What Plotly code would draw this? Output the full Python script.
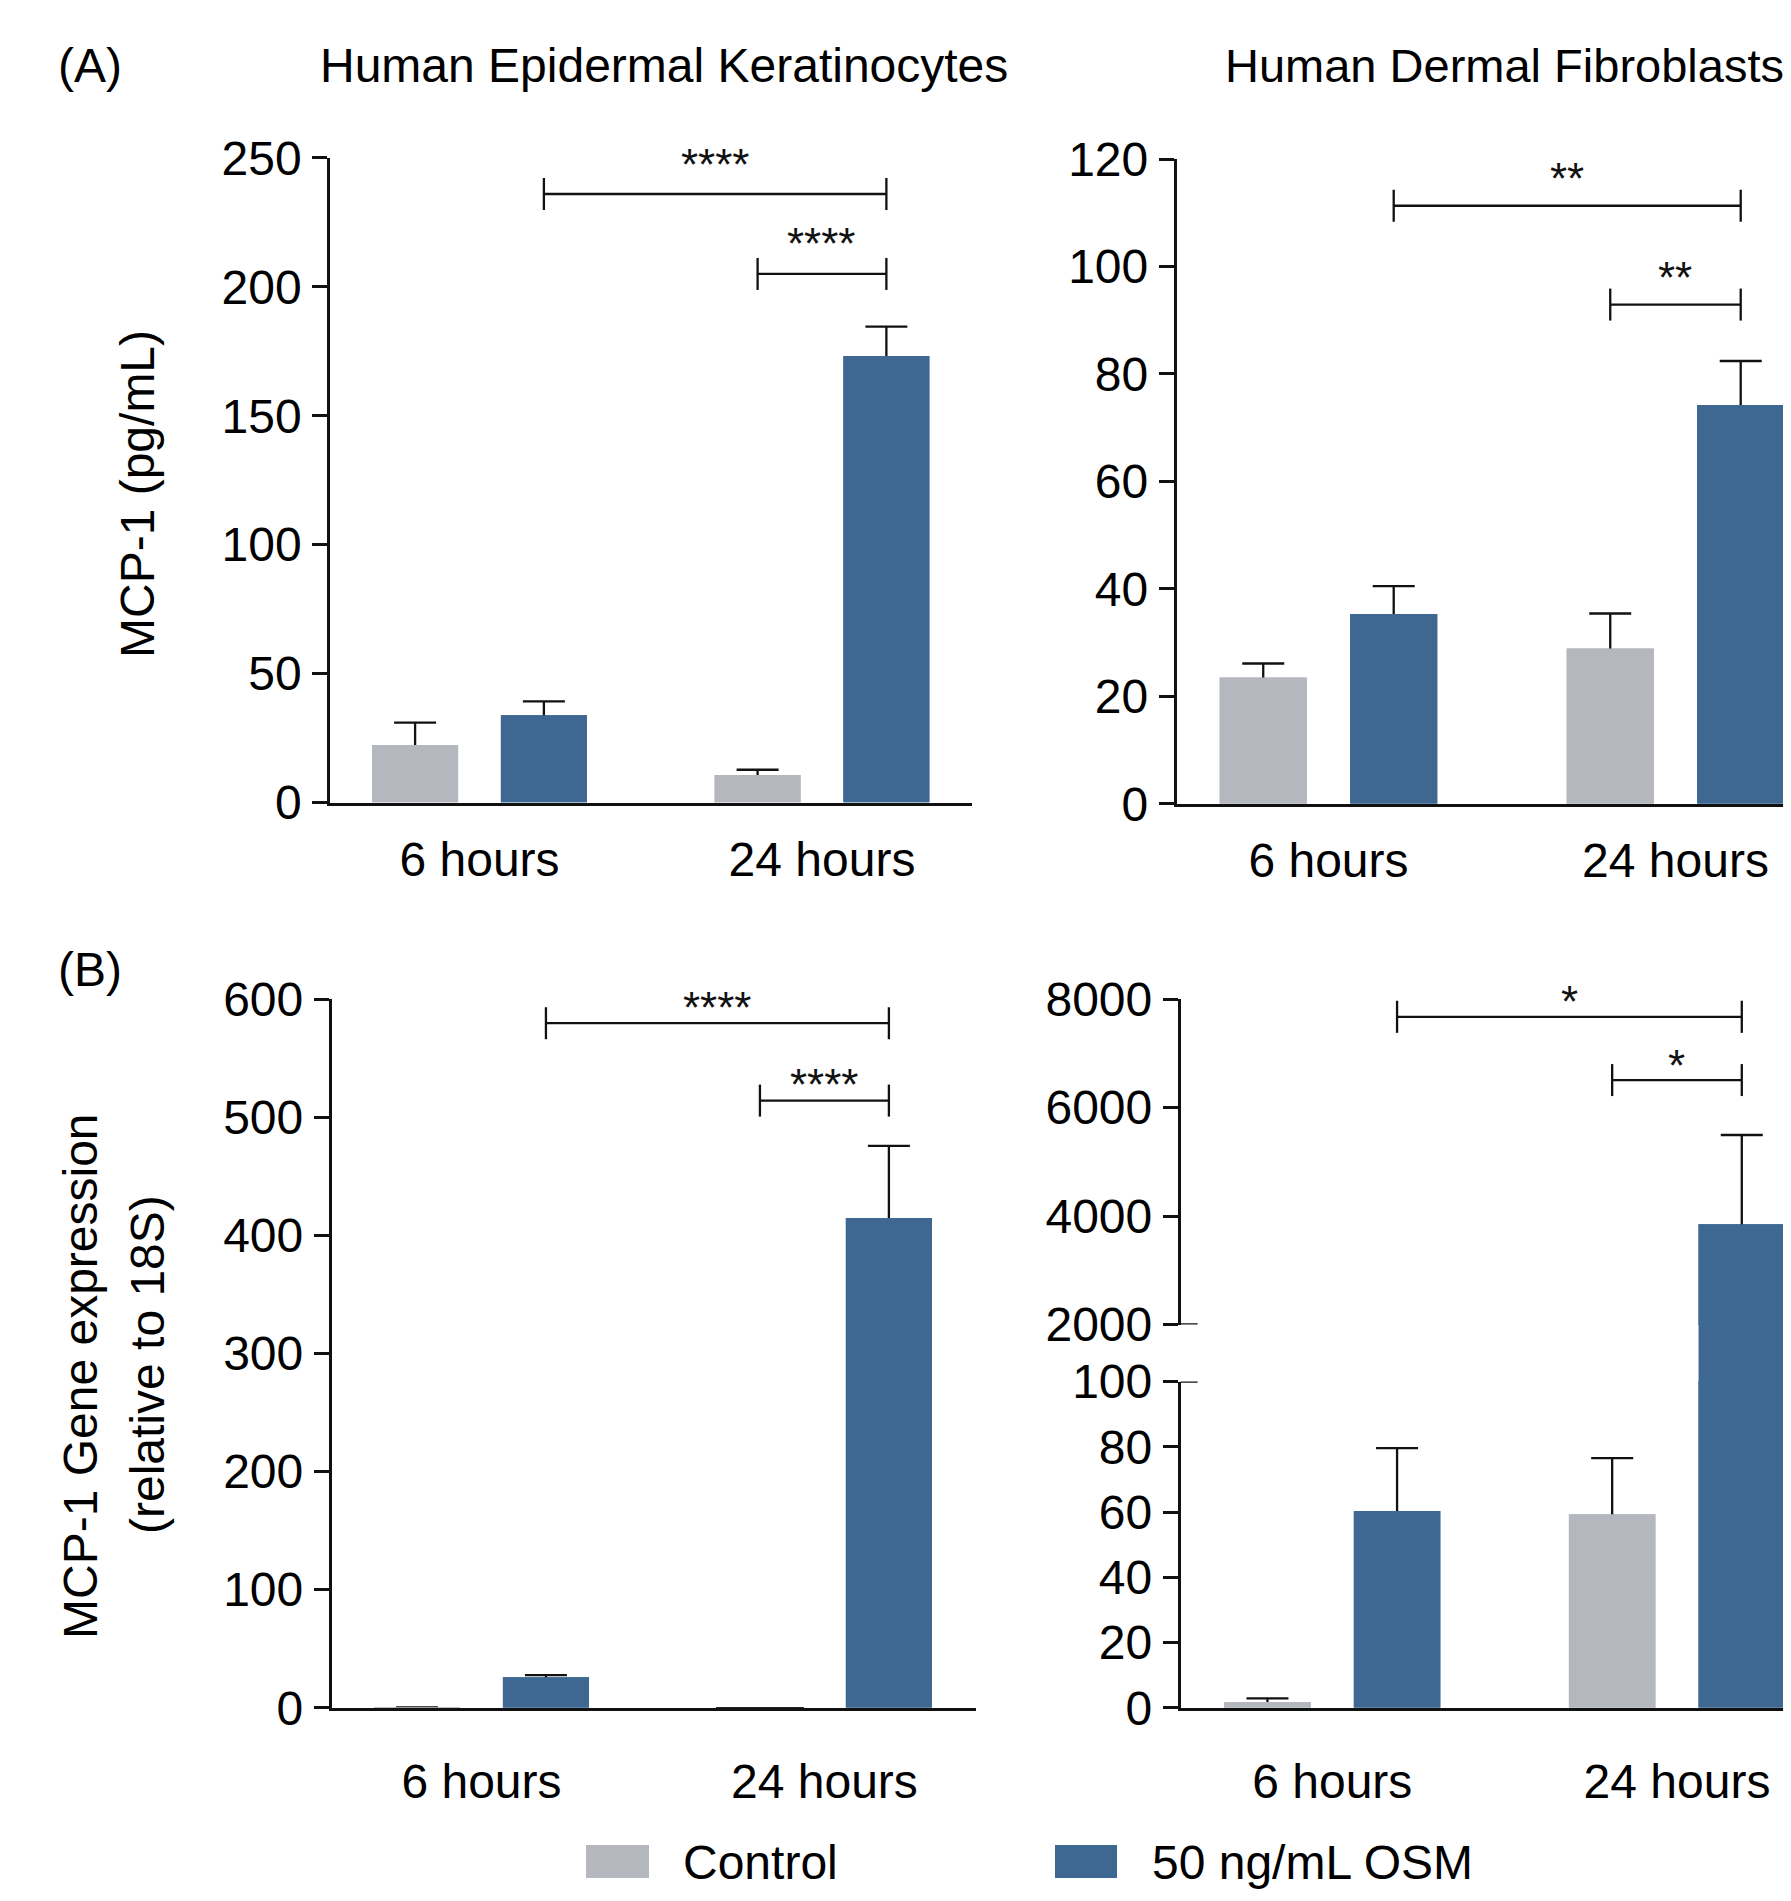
import plotly.graph_objects as go

W, H = 1791, 1901
PAGE_OFFSET = 8   # the page body margin puts the figure 8 px from the window corner
FONT = "Liberation Sans, Arial, Helvetica, sans-serif"
GRAY = "#b4b7be"
BLUE = "#3e6891"
INK = "#111111"

# ---------------- data ----------------
groups = ["6 hours", "24 hours"]
series_names = ["Control", "50 ng/mL OSM"]

# (A) MCP-1 protein (pg/mL)
kera_prot_ctrl = [22.3, 10.7]
kera_prot_ctrl_sem = [8.7, 2.0]
kera_prot_osm = [33.8, 173.2]
kera_prot_osm_sem = [5.4, 11.4]

fib_prot_ctrl = [23.5, 28.9]
fib_prot_ctrl_sem = [2.6, 6.5]
fib_prot_osm = [35.3, 74.2]
fib_prot_osm_sem = [5.2, 8.2]

# (B) MCP-1 gene expression (relative to 18S)
kera_gene_ctrl = [0.3, -2.0]
kera_gene_ctrl_sem = [None, None]
kera_gene_osm = [25.9, 414.6]
kera_gene_osm_sem = [1.7, 61.1]

fib_gene_ctrl = [1.8, 59.3]
fib_gene_ctrl_sem = [1.1, 17.2]
fib_gene_osm = [60.3, 3847.0]
fib_gene_osm_sem = [19.3, 1647.0]

# significance: [OSM 6h vs OSM 24h, Control 24h vs OSM 24h]
kera_prot_sig = ["****", "****"]
kera_prot_sig_y = [236, 205]
fib_prot_sig = ["**", "**"]
fib_prot_sig_y = [111.3, 92.9]
kera_gene_sig = ["****", "****"]
kera_gene_sig_y = [579.5, 514]
fib_gene_sig = ["*", "*"]
fib_gene_sig_y = [7671, 6506]

# ---------------- layout helpers ----------------
OFF = 0.188      # bar offset from group centre (group units)
BW = 0.251       # bar width (group units)


def px(p):
    return (p - PAGE_OFFSET) / W


def py(p):
    return 1 - (p - PAGE_OFFSET) / H


fig = go.Figure()
shapes = []
annotations = []


def bar_x(series_idx):
    return [g + (OFF if series_idx == 1 else -OFF) for g in range(len(groups))]


def add_bars(xa, ya, ctrl, ctrl_err, osm, osm_err, ctrl_line=None, with_err=True):
    for s, (vals, errs, col) in enumerate([(ctrl, ctrl_err, GRAY), (osm, osm_err, BLUE)]):
        marker = dict(color=col, line=dict(width=0))
        if s == 0 and ctrl_line is not None:
            marker = dict(color=col, line=dict(width=ctrl_line, color=INK))
        common = dict(x=bar_x(s), y=vals, width=BW, xaxis=xa, yaxis=ya,
                      marker=marker, showlegend=False, hoverinfo="skip",
                      cliponaxis=(ctrl_line is None))
        if with_err:
            # bar carrying the error bar
            fig.add_trace(go.Bar(name=series_names[s], **common,
                                 error_y=dict(type="data", array=errs, symmetric=True,
                                              color=INK, thickness=2.3, width=21)))
        # identical bar on top hides the lower half of the error bar
        fig.add_trace(go.Bar(name=series_names[s], **common))


def add_sig(xa, ya, labels, heights, star_gap):
    pairs = [(bar_x(1)[0], bar_x(1)[1]), (bar_x(0)[1], bar_x(1)[1])]
    for (x0, x1), lab, h in zip(pairs, labels, heights):
        shapes.append(dict(type="line", xref=xa, yref=ya, x0=x0, x1=x1, y0=h, y1=h,
                           line=dict(color=INK, width=2.3)))
        for xe in (x0, x1):
            shapes.append(dict(type="line", xref=xa, yref=ya, x0=xe, x1=xe,
                               ysizemode="pixel", yanchor=h, y0=-16, y1=16,
                               line=dict(color=INK, width=2.3)))
        annotations.append(dict(xref=xa, yref=ya, x=(x0 + x1) / 2, y=h, text=lab,
                                showarrow=False, xanchor="center", yanchor="middle",
                                yshift=star_gap, font=dict(size=44, color=INK, family=FONT)))


TICKFONT = dict(family=FONT, size=48, color="black")


def yaxis_style(rng, dtick, domain, anchor, tickvals=None):
    d = dict(domain=domain, range=rng, anchor=anchor, showline=True, linecolor=INK,
             linewidth=2.5, ticks="outside", ticklen=15, tickwidth=2.5, tickcolor=INK,
             tickfont=TICKFONT, showgrid=False, zeroline=False, fixedrange=True,
             ticklabelstandoff=1, automargin=False)
    if tickvals is not None:
        d["tickmode"] = "array"
        d["tickvals"] = tickvals
    else:
        d["tick0"] = rng[0]
        d["dtick"] = dtick
    return d


def xaxis_style(rng, domain, anchor, standoff):
    return dict(domain=domain, range=rng, anchor=anchor, showline=True, linecolor=INK,
                linewidth=2.5, ticks="", tickmode="array", tickvals=list(range(len(groups))),
                ticktext=groups, tickfont=TICKFONT, showgrid=False, zeroline=False,
                fixedrange=True, ticklabelstandoff=standoff, automargin=False)


# ---- (A) left: keratinocytes protein
add_bars("x", "y", kera_prot_ctrl, kera_prot_ctrl_sem, kera_prot_osm, kera_prot_osm_sem)
add_sig("x", "y", kera_prot_sig, kera_prot_sig_y, 30)
# ---- (A) right: fibroblasts protein
add_bars("x2", "y2", fib_prot_ctrl, fib_prot_ctrl_sem, fib_prot_osm, fib_prot_osm_sem)
add_sig("x2", "y2", fib_prot_sig, fib_prot_sig_y, 27)
# ---- (B) left: keratinocytes gene expression
add_bars("x3", "y3", kera_gene_ctrl, kera_gene_ctrl_sem, kera_gene_osm, kera_gene_osm_sem,
         ctrl_line=[0, 1.5])
add_sig("x3", "y3", kera_gene_sig, kera_gene_sig_y, 16)
# ---- (B) right: fibroblasts gene expression, broken axis (lower, gap, upper)
add_bars("x4", "y4", fib_gene_ctrl, fib_gene_ctrl_sem, fib_gene_osm, fib_gene_osm_sem)
add_bars("x5", "y5", fib_gene_ctrl, fib_gene_ctrl_sem, fib_gene_osm, fib_gene_osm_sem,
         with_err=False)
add_bars("x6", "y6", fib_gene_ctrl, fib_gene_ctrl_sem, fib_gene_osm, fib_gene_osm_sem)
add_sig("x6", "y6", fib_gene_sig, fib_gene_sig_y, 15)

# axis break marks (inner half of the 2000 and 100 ticks)
for ya, v in (("y6", 2000), ("y4", 100)):
    shapes.append(dict(type="line", xref="x4 domain", yref=ya, xsizemode="pixel", xanchor=0,
                       x0=0, x1=17, y0=v, y1=v, line=dict(color=INK, width=2.5)))

A_Y = [py(802.5), py(157.9)]
A2_Y = [py(803.7), py(159.0)]
B_Y = [py(1707.8), py(999.0)]
BR_LOW = [py(1707.8), py(1381.5)]
BR_GAP = [py(1383.0), py(1323.0)]   # slightly overlapping to avoid seams
BR_UP = [py(1324.6), py(999.0)]

XA_L = [-0.4365, 1.438]
XA_R = [-0.4377, 1.356]
XB_L = [-0.437, 1.442]
XB_R = [-0.440, 1.354]

layout = dict(
    template="none",
    width=W, height=H, margin=dict(l=0, r=0, t=0, b=0, pad=0), autosize=False,
    paper_bgcolor="white", plot_bgcolor="rgba(0,0,0,0)", barmode="overlay",
    showlegend=False, font=dict(family=FONT, color="black"),
    xaxis=xaxis_style(XA_L, [px(330), px(972)], "y", 13),
    yaxis=yaxis_style([0, 250], 50, A_Y, "x"),
    xaxis2=xaxis_style(XA_R, [px(1176.6), 1.0], "y2", 13),
    yaxis2=yaxis_style([0, 120], 20, A2_Y, "x2"),
    xaxis3=xaxis_style(XB_L, [px(331.6), px(976)], "y3", 30),
    yaxis3=yaxis_style([0, 600], 100, B_Y, "x3"),
    xaxis4=xaxis_style(XB_R, [px(1180.6), 1.0], "y4", 30),
    yaxis4=yaxis_style([0, 100], 20, BR_LOW, "x4"),
    xaxis5=dict(domain=[px(1180.6), 1.0], range=XB_R, anchor="y5", visible=False,
                automargin=False),
    yaxis5=dict(domain=BR_GAP, range=[100, 2000], anchor="x5", visible=False,
                fixedrange=True, automargin=False),
    xaxis6=dict(domain=[px(1180.6), 1.0], range=XB_R, anchor="y6", visible=False,
                automargin=False),
    yaxis6=yaxis_style([2000, 8000], None, BR_UP, "x6", tickvals=[2000, 4000, 6000, 8000]),
)

TXT = dict(family=FONT, size=48, color="black")
annotations += [
    dict(xref="paper", yref="paper", x=px(56), y=py(66), text="(A)", showarrow=False,
         xanchor="left", yanchor="middle", font=TXT),
    dict(xref="paper", yref="paper", x=px(56), y=py(970), text="(B)", showarrow=False,
         xanchor="left", yanchor="middle", font=TXT),
    dict(xref="paper", yref="paper", x=px(318), y=py(66), text="Human Epidermal Keratinocytes",
         showarrow=False, xanchor="left", yanchor="middle", font=TXT),
    dict(xref="paper", yref="paper", x=px(1223), y=py(66), text="Human Dermal Fibroblasts",
         showarrow=False, xanchor="left", yanchor="middle",
         font=dict(family=FONT, size=47, color="black")),
    dict(xref="paper", yref="paper", x=px(138), y=py(494), text="MCP-1 (pg/mL)",
         showarrow=False, textangle=-90, xanchor="center", yanchor="middle", font=TXT),
    dict(xref="paper", yref="paper", x=px(80), y=py(1376), text="MCP-1 Gene expression",
         showarrow=False, textangle=-90, xanchor="center", yanchor="middle", font=TXT),
    dict(xref="paper", yref="paper", x=px(147), y=py(1365), text="(relative to 18S)",
         showarrow=False, textangle=-90, xanchor="center", yanchor="middle", font=TXT),
    # legend labels
    dict(xref="paper", yref="paper", x=px(681), y=py(1862), text=series_names[0],
         showarrow=False, xanchor="left", yanchor="middle", font=TXT),
    dict(xref="paper", yref="paper", x=px(1150), y=py(1862), text=series_names[1],
         showarrow=False, xanchor="left", yanchor="middle", font=TXT),
]
# legend swatches
shapes += [
    dict(type="rect", xref="paper", yref="paper", x0=px(586), x1=px(649), y0=py(1878), y1=py(1845),
         fillcolor=GRAY, line=dict(width=0)),
    dict(type="rect", xref="paper", yref="paper", x0=px(1055), x1=px(1117), y0=py(1878), y1=py(1845),
         fillcolor=BLUE, line=dict(width=0)),
]

layout["shapes"] = shapes
layout["annotations"] = annotations
fig.update_layout(**layout)
fig.write_html("out.html", config={"displayModeBar": False})
